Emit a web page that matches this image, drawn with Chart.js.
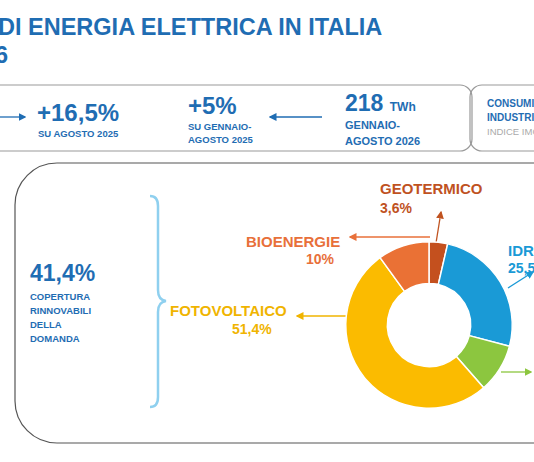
<!DOCTYPE html>
<html><head><meta charset="utf-8">
<script src="https://cdn.jsdelivr.net/npm/chart.js@4"></script>
<style>
body{margin:0;width:534px;height:462px;overflow:hidden;background:#fff;font-family:"Liberation Sans",Arial,sans-serif;position:relative}
.t{position:absolute;white-space:nowrap;font-weight:bold;color:#1f6db3;line-height:1}
.s{font-size:9.5px;line-height:13px}
svg{position:absolute;left:0;top:0}
#wrap{position:absolute;left:343px;top:239px;width:172px;height:172px}
</style></head><body>
<svg width="534" height="462">
<defs><marker id="a" markerWidth="6" markerHeight="6" refX="5" refY="3" orient="auto"><path d="M0,0 L6,3 L0,6z" fill="context-stroke"/></marker></defs>
<rect x="-20" y="85" width="492" height="66" rx="12" fill="none" stroke="#999" stroke-width="1.2"/>
<rect x="470" y="85" width="90" height="66" rx="12" fill="none" stroke="#999" stroke-width="1.2"/>
<rect x="15" y="163" width="580" height="280" rx="42" fill="none" stroke="#555" stroke-width="1.2"/>
<line x1="0" y1="117" x2="25" y2="117" stroke="#1f6db3" stroke-width="1.3" marker-end="url(#a)"/>
<line x1="322" y1="117" x2="270" y2="117" stroke="#1f6db3" stroke-width="1.3" marker-end="url(#a)"/>
<path d="M150,196 Q158,196 158,206 L158,290 Q158,300 166,301 Q158,302 158,312 L158,397 Q158,407 150,407" fill="none" stroke="#8fd0ef" stroke-width="2.5"/>
<line x1="430" y1="237" x2="350" y2="237" stroke="#e8703a" stroke-width="1.3" marker-end="url(#a)"/>
<line x1="436" y1="243" x2="441" y2="212" stroke="#c0521f" stroke-width="1.3" marker-end="url(#a)"/>
<line x1="508" y1="288" x2="533" y2="272" stroke="#1a9ad6" stroke-width="1.3" marker-end="url(#a)"/>
<line x1="352" y1="316" x2="297" y2="316" stroke="#f0b400" stroke-width="1.3" marker-end="url(#a)"/>
<line x1="501" y1="372" x2="531" y2="372" stroke="#8cc63f" stroke-width="1.3" marker-end="url(#a)"/>
</svg>
<div class="t" style="left:-2px;top:16px;font-size:23.5px">DI ENERGIA ELETTRICA IN ITALIA</div>
<div class="t" style="left:-5px;top:44px;font-size:23.5px">6</div>
<div class="t" style="left:37px;top:101px;font-size:24px">+16,5%</div>
<div class="t s" style="left:38px;top:127px">SU AGOSTO 2025</div>
<div class="t" style="left:188px;top:94px;font-size:24px">+5%</div>
<div class="t s" style="left:188px;top:120px">SU GENNAIO-<br>AGOSTO 2025</div>
<div class="t" style="left:345px;top:92px;font-size:23px">218 <span style="font-size:12px">TWh</span></div>
<div class="t s" style="left:345px;top:117px;font-size:11px;line-height:16px">GENNAIO-<br>AGOSTO 2026</div>
<div class="t s" style="left:487px;top:97px;font-size:10px;line-height:14px">CONSUMI<br>INDUSTRIALI</div>
<div class="t" style="left:487px;top:127px;font-size:9.5px;font-weight:normal;color:#aaa">INDICE IMCEI</div>
<div class="t" style="left:30px;top:262px;font-size:23px">41,4%</div>
<div class="t s" style="left:30px;top:290px;line-height:14px">COPERTURA<br>RINNOVABILI<br>DELLA<br>DOMANDA</div>
<div class="t" style="left:246px;top:234px;font-size:15px;color:#e8703a">BIOENERGIE</div>
<div class="t" style="left:306px;top:252px;font-size:14px;color:#e8703a">10%</div>
<div class="t" style="left:380px;top:181px;font-size:15px;color:#c0521f">GEOTERMICO</div>
<div class="t" style="left:380px;top:201px;font-size:14px;color:#c0521f">3,6%</div>
<div class="t" style="left:508px;top:243px;font-size:15px;color:#1a9ad6">IDROELETTRICO</div>
<div class="t" style="left:508px;top:261px;font-size:14px;color:#1a9ad6">25,5%</div>
<div class="t" style="left:170px;top:303px;font-size:15px;color:#f0b400">FOTOVOLTAICO</div>
<div class="t" style="left:232px;top:322px;font-size:14px;color:#f0b400">51,4%</div>
<div id="wrap"><canvas id="c"></canvas></div>
<script>
const categories=["Geotermico","Idroelettrico","Eolico","Fotovoltaico","Bioenergie"];
const shares=[3.6,25.5,9.5,51.4,10];
const colors=["#c4501e","#1a9ad6","#8cc63f","#fbbb00","#ea7135"];
new Chart(document.getElementById('c'),{type:'doughnut',
data:{labels:categories,datasets:[{data:shares,backgroundColor:colors,borderColor:'#fff',borderWidth:1.5}]},
options:{responsive:true,maintainAspectRatio:false,animation:false,cutout:'50%',layout:{padding:2},
plugins:{legend:{display:false},tooltip:{enabled:false}}}});
</script>
</body></html>
